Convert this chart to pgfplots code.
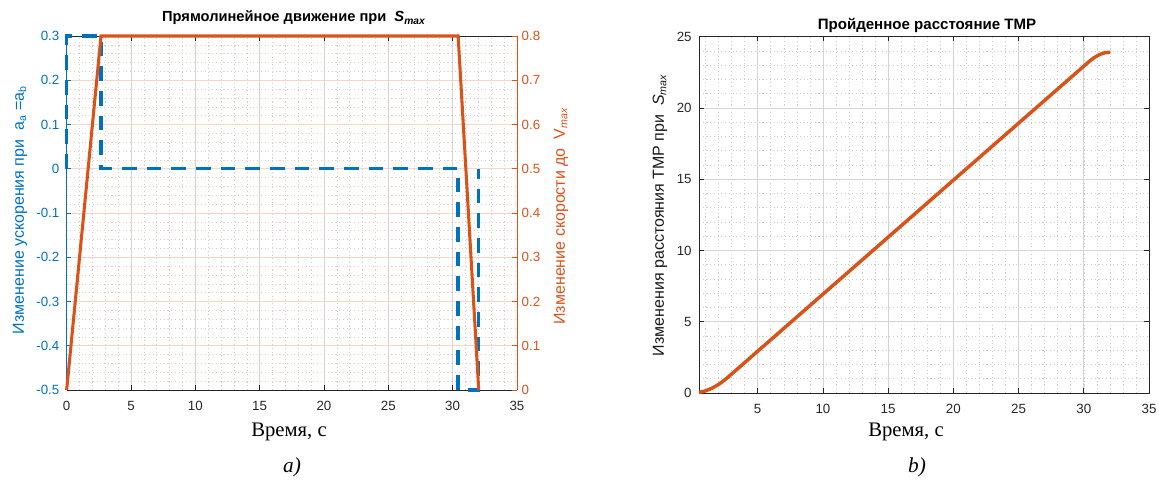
\documentclass[border=0pt]{standalone}
\usepackage{fontspec}
\setmainfont{Liberation Serif}
\setsansfont{Liberation Sans}
\usepackage{pgfplots}
\pgfplotsset{compat=1.18}
\definecolor{mblue}{RGB}{0,114,189}
\definecolor{morange}{RGB}{217,83,25}
\definecolor{axgray}{RGB}{38,38,38}
\definecolor{gridgray}{RGB}{212,212,212}
\definecolor{mingray}{RGB}{205,205,205}
\definecolor{gridorange}{RGB}{247,214,200}
\definecolor{minorange}{RGB}{243,200,184}
\pgfplotsset{
  mstyle/.style={scale only axis, anchor=south west, clip=false,
    tick align=inside, major tick length=3.5pt, minor tick length=0pt,
    ticklabel style={font=\sffamily\fontsize{10}{12}\selectfont,
      /pgf/number format/assume math mode=true},
    xticklabel style={yshift=-5pt},
    yticklabel style={xshift=-2pt},
    tick style={line width=0.5pt},
    axis line style={line width=0.6pt},
  },
}
\begin{document}
\begin{tikzpicture}
\path[use as bounding box] (0,0) rectangle (869.25pt,363pt);
% ---------- left chart: grid layer ----------
\begin{axis}[mstyle, at={(50pt,70.5pt)}, width=337.7pt, height=265.5pt,
  xmin=0, xmax=35, ymin=0, ymax=0.8,
  xtick={0,5,...,35}, ytick={0,0.1,0.2,0.3,0.4,0.5,0.6,0.7,0.8},
  minor xtick={0,1,...,35}, minor ytick={0,0.02,...,0.8},
  grid=both,
  major x grid style={gridgray, line width=0.6pt},
  minor x grid style={mingray, dash pattern=on 0.8pt off 2pt, line width=0.4pt},
  major y grid style={gridorange, line width=0.6pt},
  minor y grid style={minorange, dash pattern=on 0.8pt off 2pt, line width=0.4pt},
  xticklabels={}, yticklabels={}, major tick length=0pt,
  axis line style={draw=none}]
\addplot[draw=none] coordinates {(0,0)};
\end{axis}
% ---------- left chart: acceleration (left axis) ----------
\begin{axis}[mstyle, at={(50pt,70.5pt)}, width=337.7pt, height=265.5pt,
  xmin=0, xmax=35, ymin=-0.5, ymax=0.3,
  axis x line*=box, axis y line*=left, separate axis lines,
  x axis line style={axgray}, y axis line style={mblue},
  xtick={0,5,...,35}, ytick={-0.5,-0.4,-0.3,-0.2,-0.1,0,0.1,0.2,0.3},
  xticklabel style={axgray}, yticklabel style={mblue},
  x tick style={axgray}, y tick style={mblue}]
\addplot[mblue, line width=2.6pt, dash pattern=on 11pt off 7.5pt]
  coordinates {(0,0) (0,0.3) (2.67,0.3) (2.67,0) (30.43,0) (30.43,-0.5) (32.03,-0.5) (32.03,0)};
\end{axis}
% ---------- left chart: velocity (right axis) ----------
\begin{axis}[mstyle, at={(50pt,70.5pt)}, width=337.7pt, height=265.5pt,
  xmin=0, xmax=35, ymin=0, ymax=0.8,
  axis x line=none, axis y line*=right,
  y axis line style={morange},
  ytick={0,0.1,0.2,0.3,0.4,0.5,0.6,0.7,0.8},
  yticklabel style={morange, xshift=2pt}, y tick style={morange}]
\addplot[morange, line width=2.3pt]
  coordinates {(0,0) (2.67,0.8) (30.43,0.8) (32.03,0)};
\end{axis}
% ---------- right chart ----------
\begin{axis}[mstyle, at={(524.25pt,68.25pt)}, width=337.5pt, height=267.2pt,
  xmin=0.5, xmax=35, ymin=0, ymax=25,
  xtick={5,10,...,35}, ytick={0,5,...,25},
  minor xtick={1,2,...,35}, minor ytick={0,1,...,25},
  grid=both,
  major grid style={gridgray, line width=0.6pt},
  minor grid style={mingray, dash pattern=on 0.8pt off 2pt, line width=0.4pt},
  axis line style={axgray}, tick style={axgray},
  ticklabel style={axgray}]
\addplot[morange, line width=2.6pt, line join=round]
  coordinates {(0.5,0.0375) (1,0.15) (1.5,0.3375) (2,0.6) (2.3,0.7935) (2.67,1.069)
    (10,6.933) (20,14.933) (30.43,23.277) (30.8,23.539) (31.2,23.745) (31.6,23.871) (32.03,23.917)};
\end{axis}
% ---------- texts ----------
\node[font=\sffamily\bfseries\fontsize{11}{13}\selectfont, text=black] at (220.5pt,349.5pt)
  {Прямолинейное движение при\ \ \textit{S}\textsubscript{\textit{max}}};
\node[font=\sffamily\bfseries\fontsize{11.3}{13}\selectfont, text=black] at (695.25pt,344.25pt)
  {Пройденное расстояние ТМР};
\node[font=\sffamily\fontsize{12}{14}\selectfont, text=mblue, rotate=90] at (15pt,205.5pt)
  {Изменение ускорения при\ \ a\textsubscript{a} =a\textsubscript{b}};
\node[font=\sffamily\fontsize{12}{14}\selectfont, text=morange, rotate=90] at (420.75pt,201pt)
  {Изменение скорости до\ \ V\textsubscript{\textit{max}}};
\node[font=\sffamily\fontsize{12}{14}\selectfont, text=black!90, rotate=90] at (495pt,201.75pt)
  {Изменения расстояния ТМР при\ \ \textit{S}\textsubscript{\textit{max}}};
\node[font=\fontsize{15.5}{18}\selectfont] at (216.75pt,39pt) {Время, с};
\node[font=\fontsize{15.5}{18}\selectfont] at (679.5pt,39pt) {Время, с};
\node[font=\itshape\fontsize{16}{18}\selectfont] at (219pt,12.75pt) {a)};
\node[font=\itshape\fontsize{16}{18}\selectfont] at (687.75pt,12.75pt) {b)};
\end{tikzpicture}
\end{document}
